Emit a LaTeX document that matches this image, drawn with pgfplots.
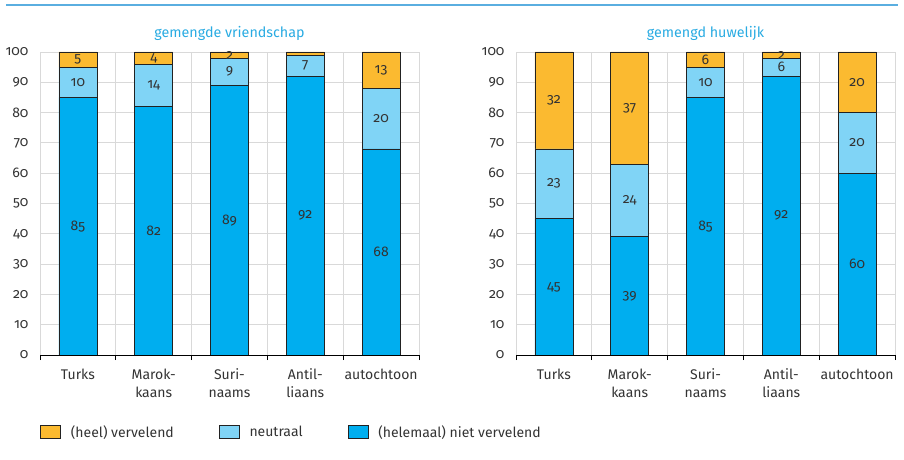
\documentclass[border=0pt]{standalone}
\usepackage{pgfplots}
\pgfplotsset{compat=1.18}
\usepackage{fontspec}
\setmainfont{Fira Sans}[Numbers=OldStyle]
\definecolor{corange}{HTML}{FBBA30}
\definecolor{clight}{HTML}{80D4F6}
\definecolor{cblue}{HTML}{00AEEF}
\definecolor{gridgray}{HTML}{D9D9D9}
\definecolor{titleblue}{HTML}{29ABE2}
\definecolor{topline}{HTML}{5AAEE0}
\definecolor{txt}{HTML}{333333}
\definecolor{barline}{HTML}{222222}
\pgfplotsset{
  base/.style={width=379pt,height=303pt,scale only axis,xmin=-0.5,xmax=4.5,ymin=0,ymax=100},
  panel/.style={base,
    ybar stacked, bar width=38pt,
    /pgf/number format/assume math mode=true,
    axis x line*=bottom, axis y line*=left,
    x axis line style={-,black,line width=0.9pt},
    y axis line style={draw=none},
    tick align=outside,
    xtick={0,1,2,3,4},
    xticklabels={Turks,Marok-\\kaans,Suri-\\naams,Antil-\\liaans,autochtoon},
    minor xtick={-0.5,0.5,1.5,2.5,3.5,4.5},
    ytick={0,10,...,100},
    major tick length=0pt, minor tick length=5pt,
    minor x tick style={black,line width=0.8pt},
    ytick style={draw=none},
    xmajorgrids=false, xminorgrids=true, ymajorgrids=true,
    major grid style={gridgray,line width=0.8pt},
    minor grid style={gridgray,line width=0.8pt},
    xticklabel style={align=center,font=\fontsize{14}{18}\selectfont,text=txt,anchor=north,yshift=-10pt},
    yticklabel style={font=\fontsize{14}{15}\selectfont,text=txt,xshift=-8pt},
    title style={font=\fontsize{14.3}{16}\selectfont,text=titleblue,anchor=south,at={(0.5,1)},yshift=1.5pt},
    legend image code/.code={\draw[#1,/tikz/.cd,yshift=0pt] (0pt,-6.5pt) rectangle (20pt,6.5pt);},
  },
  seg/.style={fill=#1,draw=barline,line width=0.7pt},
  labs/.style={base,hide axis,
    nodes near coords style={anchor=center,font=\fontsize{14}{15}\selectfont,text=txt}},
}
\begin{document}
\begin{tikzpicture}
\useasboundingbox (0,0) rectangle (904pt,460pt);
\draw[topline,line width=2pt] (6pt,455pt) -- (898pt,455pt);
% left panel
\begin{axis}[panel, at={(40pt,105pt)}, anchor=south west,
  title={gemengde vriendschap},
  reverse legend,
  legend columns=3,
  legend style={at={(0,-0.254)},anchor=west,draw=none,fill=none,inner sep=0pt,
    font=\fontsize{14}{15}\selectfont,text=txt,
    /tikz/every odd column/.append style={column sep=8pt},
    /tikz/every even column/.append style={column sep=43pt}},
  legend cell align=left]
\addplot[seg=cblue] coordinates {(0,85) (1,82) (2,89) (3,92) (4,68)};
\addplot[seg=clight] coordinates {(0,10) (1,14) (2,9) (3,7) (4,20)};
\addplot[seg=corange] coordinates {(0,5) (1,4) (2,2) (3,1) (4,12)};
\legend{(helemaal) niet vervelend,neutraal,(heel) vervelend}
\end{axis}
\begin{axis}[labs, at={(40pt,105pt)}, anchor=south west]
\addplot[draw=none,nodes near coords,point meta=explicit symbolic] coordinates {
(0,42.5)[85] (1,41)[82] (2,44.5)[89] (3,46)[92] (4,34)[68]
(0,90)[10] (1,89)[14] (2,93.5)[9] (3,95.5)[7] (4,78)[20]
(0,97.5)[5] (1,98)[4] (2,99)[2] (4,94)[13]};
\end{axis}
% right panel
\begin{axis}[panel, at={(516pt,105pt)}, anchor=south west,
  title={gemengd huwelijk}]
\addplot[seg=cblue] coordinates {(0,45) (1,39) (2,85) (3,92) (4,60)};
\addplot[seg=clight] coordinates {(0,23) (1,24) (2,10) (3,6) (4,20)};
\addplot[seg=corange] coordinates {(0,32) (1,37) (2,5) (3,2) (4,20)};
\end{axis}
\begin{axis}[labs, at={(516pt,105pt)}, anchor=south west]
\addplot[draw=none,nodes near coords,point meta=explicit symbolic] coordinates {
(0,22.5)[45] (1,19.5)[39] (2,42.5)[85] (3,46)[92] (4,30)[60]
(0,56.5)[23] (1,51)[24] (2,90)[10] (3,95)[6] (4,70)[20]
(0,84)[32] (1,81.5)[37] (2,97.5)[6] (3,99)[2] (4,90)[20]};
\end{axis}
\end{tikzpicture}
\end{document}
